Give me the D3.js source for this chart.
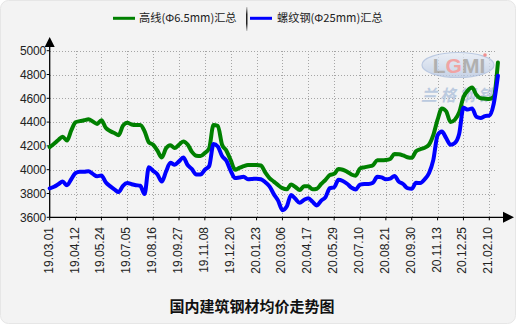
<!DOCTYPE html>
<html>
<head>
<meta charset="utf-8">
<script src="https://cdn.jsdelivr.net/npm/d3@7"></script>
<style>
  html, body { margin: 0; padding: 0; background: #ffffff; }
  svg { display: block; }
</style>
</head>
<body>
<svg id="chart" width="516" height="324"></svg>
<script>
// Tick labels along the x axis, one every 30 trading days
const tickLabels = ["19.03.01","19.04.12","19.05.24","19.07.05","19.08.16","19.09.27",
  "19.11.08","19.12.20","20.01.23","20.03.06","20.04.17","20.05.29","20.07.10",
  "20.08.21","20.09.30","20.11.13","20.12.25","21.02.10"];
const tickStep = 30;      // trading days between labels
const sampleStep = 5;     // trading days between stored samples (weekly)

// 高线(Φ6.5mm)汇总, weekly average price (元/吨)
const wireRod = [4190,4218,4250,4277,4245,4330,4398,4408,4415,4424,4405,4385,4415,4352,4325,4308,
  4290,4370,4395,4380,4376,4376,4325,4230,4210,4160,4103,4180,4205,4182,4210,4238,4212,4150,4118,
  4115,4140,4180,4375,4368,4210,4160,4080,4000,4015,4030,4040,4040,4040,4035,3978,3930,3900,3870,
  3845,3835,3875,3855,3830,3860,3860,3835,3840,3880,3915,3955,3965,4005,4000,3983,3960,3950,4010,
  4020,4028,4038,4080,4080,4082,4090,4132,4130,4120,4105,4100,4155,4172,4185,4210,4290,4420,4515,
  4490,4400,4420,4480,4610,4665,4690,4630,4600,4597,4595,4612,4900];

// 螺纹钢(Φ25mm)汇总, weekly average price (元/吨)
const rebar = [3843,3857,3878,3900,3870,3920,3972,3982,3983,3988,3965,3945,3952,3895,3862,3835,
  3812,3865,3888,3878,3870,3865,3795,4020,3990,3960,3900,3985,4058,4042,4070,4102,4040,4005,3960,
  3960,4000,4030,4215,4195,4115,4075,3990,3930,3935,3940,3920,3922,3925,3920,3895,3860,3795,3740,
  3660,3690,3787,3755,3722,3746,3760,3730,3700,3740,3770,3845,3852,3915,3905,3882,3850,3833,3875,
  3880,3880,3890,3940,3935,3920,3925,3948,3900,3880,3845,3840,3890,3888,3920,3970,4080,4290,4320,
  4265,4210,4225,4300,4520,4505,4515,4445,4435,4450,4455,4550,4790];

const yTicks = [3600,3800,4000,4200,4400,4600,4800,5000];
const seriesNames = ["高线(Φ6.5mm)汇总", "螺纹钢(Φ25mm)汇总"];
const seriesColors = ["#008000", "#0000ff"];
const title = "国内建筑钢材均价走势图";

(function draw() {
  const svg = d3.select("#chart");
  const W = 516, H = 324;
  const plotLeft = 49.7, plotRight = 496, plotTop = 50.7, plotBottom = 217.3;

  const defs = svg.append("defs");

  // panel background
  svg.append("rect").attr("x", 0.5).attr("y", 0.5).attr("width", W - 1).attr("height", H - 1)
    .attr("rx", 8).attr("fill", "#f3f3f3").attr("stroke", "#e6e6e6");

  const x = d3.scaleLinear().domain([0, (tickLabels.length - 1) * tickStep]).range([plotLeft, 489.3]);
  const y = d3.scaleLinear().domain([3600, 5000]).range([plotBottom, plotTop]);

  // grid
  const grid = svg.append("g").attr("stroke", "#a5a5a5").attr("stroke-width", 1)
    .attr("stroke-dasharray", "1,2").attr("shape-rendering", "crispEdges");
  grid.selectAll("line.h").data(yTicks.filter(v => v > 3600)).join("line").attr("class", "h")
    .attr("x1", plotLeft).attr("x2", plotRight)
    .attr("y1", d => Math.round(y(d)) + 0.5).attr("y2", d => Math.round(y(d)) + 0.5);
  grid.selectAll("line.v").data(tickLabels.slice(1)).join("line").attr("class", "v")
    .attr("x1", (d, i) => Math.round(x((i + 1) * tickStep)) + 0.5)
    .attr("x2", (d, i) => Math.round(x((i + 1) * tickStep)) + 0.5)
    .attr("y1", plotTop).attr("y2", plotBottom);

  // watermark logo
  const wm = svg.append("g").attr("opacity", 0.75);
  const wmGrad = defs.append("linearGradient").attr("id", "wmGrad")
    .attr("x1", 0).attr("y1", 0).attr("x2", 0).attr("y2", 1);
  wmGrad.append("stop").attr("offset", "0%").attr("stop-color", "#e8eef8");
  wmGrad.append("stop").attr("offset", "100%").attr("stop-color", "#b8c8e2");
  wm.append("ellipse").attr("cx", 458).attr("cy", 65).attr("rx", 36).attr("ry", 12.5)
    .attr("fill", "url(#wmGrad)").attr("stroke", "#a9bcdc").attr("stroke-width", 1.2);
  const logo = wm.append("text").attr("x", 459).attr("y", 73).attr("text-anchor", "middle")
    .attr("font-family", "Liberation Sans, Arial, sans-serif").attr("font-weight", "bold")
    .attr("font-size", 21).attr("fill", "#9a9a9a");
  logo.append("tspan").text("L");
  logo.append("tspan").attr("fill", "#f08a8a").text("G");
  logo.append("tspan").text("MI");
  wm.append("circle").attr("cx", 485).attr("cy", 55).attr("r", 1.8).attr("fill", "#f07070");
  wm.append("text").attr("x", 459).attr("y", 101).attr("text-anchor", "middle")
    .attr("font-family", "Noto Sans CJK SC, sans-serif").attr("font-weight", "bold")
    .attr("font-size", 16).attr("letter-spacing", 3).attr("font-style", "italic")
    .attr("fill", "#a9bdd9").text("兰格钢铁");

  // axes
  const axes = svg.append("g").attr("stroke", "#000").attr("stroke-width", 1.3);
  axes.append("line").attr("x1", plotLeft).attr("x2", plotLeft).attr("y1", 44).attr("y2", plotBottom);
  axes.append("line").attr("x1", plotLeft).attr("x2", 506).attr("y1", plotBottom).attr("y2", plotBottom);
  svg.append("path").attr("d", `M${plotLeft},37 L${plotLeft - 5},47 L${plotLeft + 5},47 Z`).attr("fill", "#000");
  svg.append("path").attr("d", `M514,${plotBottom} L503,${plotBottom - 5.5} L503,${plotBottom + 5.5} Z`).attr("fill", "#000");

  // y ticks and labels
  const yAxis = svg.append("g");
  yAxis.selectAll("line").data(yTicks).join("line")
    .attr("x1", plotLeft - 3).attr("x2", plotLeft).attr("y1", d => y(d)).attr("y2", d => y(d))
    .attr("stroke", "#000");
  yAxis.selectAll("text").data(yTicks).join("text")
    .attr("x", 46).attr("y", d => y(d)).attr("dy", "0.35em").attr("text-anchor", "end")
    .attr("font-family", "Liberation Sans, Arial, sans-serif").attr("font-size", 12)
    .attr("fill", "#222").attr("letter-spacing", -0.2).text(d => d);

  // x ticks and rotated labels
  const xAxis = svg.append("g");
  xAxis.selectAll("line").data(tickLabels).join("line")
    .attr("x1", (d, i) => x(i * tickStep)).attr("x2", (d, i) => x(i * tickStep))
    .attr("y1", plotBottom).attr("y2", plotBottom + 3).attr("stroke", "#000");
  xAxis.selectAll("text").data(tickLabels).join("text")
    .attr("transform", (d, i) => `translate(${x(i * tickStep) + 3},227) rotate(-90)`)
    .attr("text-anchor", "end")
    .attr("font-family", "Liberation Sans, Arial, sans-serif").attr("font-size", 12)
    .attr("fill", "#222").text(d => d);

  // price lines
  const line = d3.line().x((d, i) => x(i * sampleStep)).y(d => y(d)).curve(d3.curveMonotoneX);
  [wireRod, rebar].forEach((vals, k) => {
    svg.append("path").datum(vals).attr("d", line).attr("fill", "none")
      .attr("stroke", seriesColors[k]).attr("stroke-width", 4)
      .attr("stroke-linejoin", "round").attr("stroke-linecap", "round");
  });

  // legend
  const legend = svg.append("g").attr("font-family", "Noto Sans CJK SC, sans-serif").attr("font-size", 11.2);
  const legendPos = [{lx: 113, tx: 139}, {lx: 250, tx: 277}];
  legendPos.forEach((p, k) => {
    legend.append("line").attr("x1", p.lx).attr("x2", p.lx + 22).attr("y1", 18.3).attr("y2", 18.3)
      .attr("stroke", seriesColors[k]).attr("stroke-width", 3);
    legend.append("text").attr("x", p.tx).attr("y", 18.3).attr("dy", "0.36em")
      .attr("fill", "#222").text(seriesNames[k]);
  });
  const sepGrad = defs.append("linearGradient").attr("id", "sepGrad")
    .attr("x1", 0).attr("y1", 0).attr("x2", 0).attr("y2", 1);
  sepGrad.append("stop").attr("offset", "0%").attr("stop-color", "#cfcfcf");
  sepGrad.append("stop").attr("offset", "30%").attr("stop-color", "#222");
  sepGrad.append("stop").attr("offset", "70%").attr("stop-color", "#222");
  sepGrad.append("stop").attr("offset", "100%").attr("stop-color", "#cfcfcf");
  svg.append("rect").attr("x", 246).attr("y", 7).attr("width", 1.5).attr("height", 24)
    .attr("fill", "url(#sepGrad)");

  // title
  svg.append("text").attr("x", 252).attr("y", 312).attr("text-anchor", "middle")
    .attr("font-family", "Noto Sans CJK SC, sans-serif").attr("font-weight", "bold")
    .attr("font-size", 15).attr("fill", "#111").text(title);
})();
</script>
</body>
</html>
